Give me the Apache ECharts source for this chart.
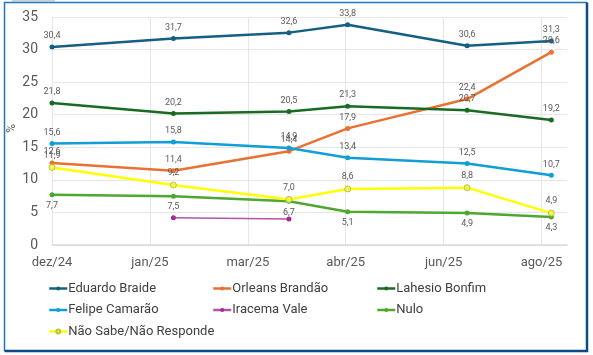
<!DOCTYPE html>
<html>
<head>
<meta charset="utf-8">
<script src="https://cdn.jsdelivr.net/npm/echarts@6/dist/echarts.min.js"></script>
<style>
html,body{margin:0;padding:0;background:#fff;}
#c{width:593px;height:355px;}
</style>
</head>
<body>
<div id="c"></div>
<script>
// ---- data ----
const axisStart = '2024-12-01';
const dates = ['2024-12-01', '2025-02-01', '2025-04-01', '2025-05-01', '2025-07-01', '2025-08-13'];
const tickLabels = ['dez/24', 'jan/25', 'mar/25', 'abr/25', 'jun/25', 'ago/25'];
const tickStepDays = 50;
const axisEndDays = 263;

const eduardoBraide   = [30.4, 31.7, 32.6, 33.8, 30.6, 31.3];
const orleansBrandao  = [12.6, 11.4, 14.4, 17.9, 22.4, 29.6];
const lahesioBonfim   = [21.8, 20.2, 20.5, 21.3, 20.7, 19.2];
const felipeCamarao   = [15.6, 15.8, 14.9, 13.4, 12.5, 10.7];
const iracemaVale     = [null, 4.2, 4.0, null, null, null];
const nulo            = [7.7, 7.5, 6.7, 5.1, 4.9, 4.3];
const naoSabe         = [11.9, 9.2, 7.0, 8.6, 8.8, 4.9];

// ---- helpers ----
const DAY = 86400000;
const t0 = Date.parse(axisStart + 'T00:00:00Z');
const xDays = dates.map(d => Math.round((Date.parse(d + 'T00:00:00Z') - t0) / DAY));
const pairs = vals => vals.map((v, i) => v == null ? null : [xDays[i], v]).filter(p => p);
const fmt = v => v.toFixed(1).replace('.', ',');

const FONT = 'Roboto, "Noto Sans", sans-serif';
const labelStyle = (pos) => ({
  show: true, position: pos, distance: 4,
  fontSize: 9, color: '#595959', fontFamily: FONT,
  formatter: p => fmt(p.value[1])
});

function mk(name, vals, color, opts = {}) {
  return Object.assign({
    name, type: 'line', data: pairs(vals),
    symbol: 'circle', symbolSize: 5,
    lineStyle: { color, width: 2.5 },
    itemStyle: { color },
    label: labelStyle('top'),
    emphasis: { disabled: true },
    animation: false, z: 2
  }, opts);
}

const series = [
  mk('Eduardo Braide', eduardoBraide, '#156082'),
  mk('Orleans Brandão', orleansBrandao, '#E97132'),
  mk('Lahesio Bonfim', lahesioBonfim, '#196B24'),
  mk('Felipe Camarão', felipeCamarao, '#0F9ED5'),
  mk('Iracema Vale', iracemaVale, '#A02B93', { lineStyle: { color: '#B452AA', width: 1.5 }, label: { show: false } }),
  mk('Nulo', nulo, '#4EA72E', { label: labelStyle('bottom') }),
  mk('Não Sabe/Não Responde', naoSabe, '#FFFF00', {
    itemStyle: { color: '#F4F45A', borderColor: '#B9C83A', borderWidth: 1 },
    symbolSize: 6
  })
];

const legendBase = {
  orient: 'vertical', itemWidth: 18, itemHeight: 5, itemGap: 8.5,
  textStyle: { fontSize: 13, color: '#404040', fontFamily: FONT, padding: [0, 0, 0, -4] },
  lineStyle: { width: 2.5 },
  top: 282, padding: 0
};

const chart = echarts.init(document.getElementById('c'), null, { renderer: 'canvas' });
chart.setOption({
  animation: false,
  backgroundColor: '#fff',
  grid: { left: 52, right: 26, top: 17, bottom: 110, containLabel: false },
  xAxis: {
    type: 'value', min: 0, max: axisEndDays, interval: tickStepDays,
    axisLine: { show: true, lineStyle: { color: '#D9D9D9', width: 1.5 } },
    axisTick: { show: false },
    axisLabel: {
      fontSize: 13, color: '#595959', fontFamily: FONT, margin: 11,
      showMaxLabel: false,
      formatter: v => (v % tickStepDays === 0 ? (tickLabels[v / tickStepDays] || '') : '')
    },
    splitLine: { show: true, showMaxLine: false, lineStyle: { color: '#E6E6E6', width: 1 } }
  },
  yAxis: {
    type: 'value', min: 0, max: 35, interval: 5,
    axisLine: { show: false }, axisTick: { show: false },
    axisLabel: { fontSize: 14, color: '#595959', fontFamily: FONT, margin: 14 },
    splitLine: { lineStyle: { color: '#E6E6E6', width: 1 } }
  },
  legend: [
    Object.assign({}, legendBase, { left: 48, data: ['Eduardo Braide', 'Felipe Camarão', 'Não Sabe/Não Responde'] }),
    Object.assign({}, legendBase, { left: 212, data: ['Orleans Brandão', 'Iracema Vale'] }),
    Object.assign({}, legendBase, { left: 376, data: ['Lahesio Bonfim', 'Nulo'] })
  ],
  graphic: [
    { type: 'text', left: 6, top: 124, rotation: Math.PI / 2,
      style: { text: '%', fontSize: 12, fill: '#595959', fontFamily: FONT } },
    { type: 'rect', shape: { x: 12, y: 0, width: 43, height: 1.5 }, style: { fill: '#D0D0D0' }, silent: true },
    { type: 'polyline', shape: { points: [[4.5, 351], [4.5, 2.5], [587, 2.5]] },
      style: { stroke: '#1E78C8', lineWidth: 1.5, fill: null }, silent: true },
    { type: 'polyline', shape: { points: [[587, 2.5], [587, 351], [4.5, 351]] },
      style: { stroke: '#0C4A8A', lineWidth: 2.5, fill: null }, silent: true }
  ],
  series
});
</script>
</body>
</html>
